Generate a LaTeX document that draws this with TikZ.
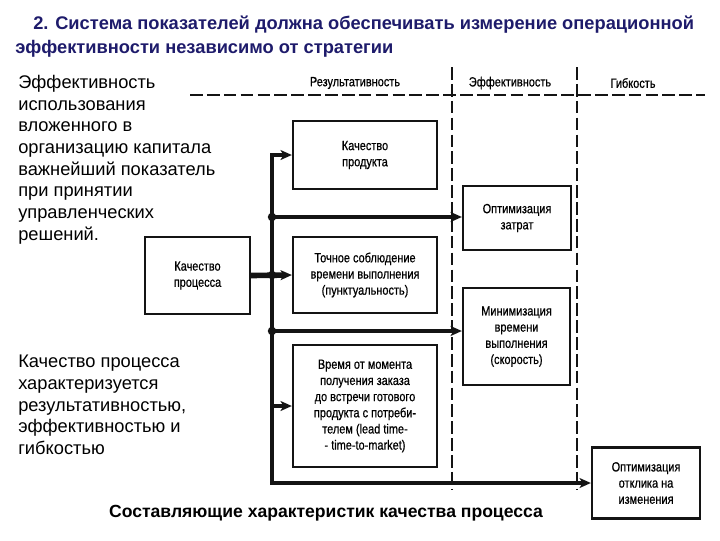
\documentclass[tikz,border=0pt]{standalone}
\usepackage{fontspec}
\setmainfont{Liberation Sans}
\newfontfamily\narrowsf[FakeStretch=0.82, FakeBold=0.6]{Liberation Sans}
\usetikzlibrary{arrows.meta,positioning,calc}
\definecolor{ink}{HTML}{141414}
\definecolor{navy}{HTML}{1E1B6B}

\begin{document}
\begin{tikzpicture}[x=0.025cm, y=-0.025cm,
  >={Stealth[length=8pt, width=7pt, inset=2pt]},
  box/.style={draw=ink, line width=1.6pt, align=center, inner sep=2pt, font=\narrowsf\fontsize{9.5}{11.5}\selectfont},
  pw/.style={->, draw=ink, line width=2.4pt},
  grid/.style={draw=ink, line width=1pt, dash pattern=on 9pt off 3pt},
  hd/.style={font=\narrowsf\fontsize{9.5}{11}\selectfont},
  txt/.style={anchor=north west, inner sep=0pt, align=left, font=\fontsize{13}{15.4}\selectfont},
  ttl/.style={anchor=base west, inner sep=0pt, text=navy, font=\bfseries\fontsize{13}{15}\selectfont},
  jn/.style={circle, fill=ink, inner sep=0pt, minimum size=6pt}]
\useasboundingbox (0,0) rectangle (720,540);
% title and side notes
\node[ttl] (title1) at (33,29) {2. Система показателей должна обеспечивать измерение операционной};
\node[ttl] (title2) at (15,53) {эффективности независимо от стратегии};
\node[txt] (note1) at (18,75) {Эффективность\\использования\\вложенного в\\организацию капитала\\важнейший показатель\\при принятии\\управленческих\\решений.};
\node[txt] (note2) at (18,355) {Качество процесса\\характеризуется\\результативностью,\\эффективностью и\\гибкостью};
\node[anchor=base, inner sep=0pt, font=\bfseries\fontsize{12.5}{14}\selectfont] (caption) at (326,517) {Составляющие характеристик качества процесса};
% columns
\draw[grid] (190,95) -- (705,95);
\draw[grid] (452,67) -- (452,490);
\draw[grid] (577,67) -- (577,490);
\node[hd] (h1) at (355,83) {Результативность};
\node[hd] (h2) at (510,83) {Эффективность};
\node[hd] (h3) at (633,83) {Гибкость};
% boxes
\node[box, minimum width=2.625cm, minimum height=1.925cm] (proc) at (197.5,275.5) {Качество\\процесса};
\node[box, minimum width=3.6cm, minimum height=1.7cm] (prod) at (365,155) {Качество\\продукта};
\node[box, minimum width=3.6cm, minimum height=1.9cm] (punct) at (365,275) {Точное соблюдение\\времени выполнения\\(пунктуальность)};
\node[box, minimum width=3.6cm, minimum height=3.05cm] (lead) at (365,406) {Время от момента\\получения заказа\\до встречи готового\\продукта с потреби-\\телем (lead time-\\- time-to-market)};
\node[box, minimum width=2.7cm, minimum height=1.6cm] (cost) at (517,218) {Оптимизация\\затрат};
\node[box, minimum width=2.675cm, minimum height=2.425cm] (speed) at (516.5,336.5) {Минимизация\\времени\\выполнения\\(скорость)};
\node[box, minimum width=2.7cm, minimum height=1.775cm] (resp) at (646,483) {Оптимизация\\отклика на\\изменения};
% spine and links
\coordinate (bot) at (272,483);
\coordinate (j1) at (272,217);
\coordinate (j2) at (272,275);
\coordinate (j3) at (272,331);
\draw[pw, <->] (prod.west) -| (bot) -- (resp.west);
\draw[pw] (j1) -- (j1 -| cost.west);
\draw[pw] (j3) -- (j3 -| speed.west);
\draw[pw] (j2 |- lead.west) -- (lead.west);
\draw[pw, line width=4pt] (proc.east) -- (punct.west);
\foreach \j in {j1,j2,j3} \node[jn] at (\j) {};
\end{tikzpicture}
\end{document}
